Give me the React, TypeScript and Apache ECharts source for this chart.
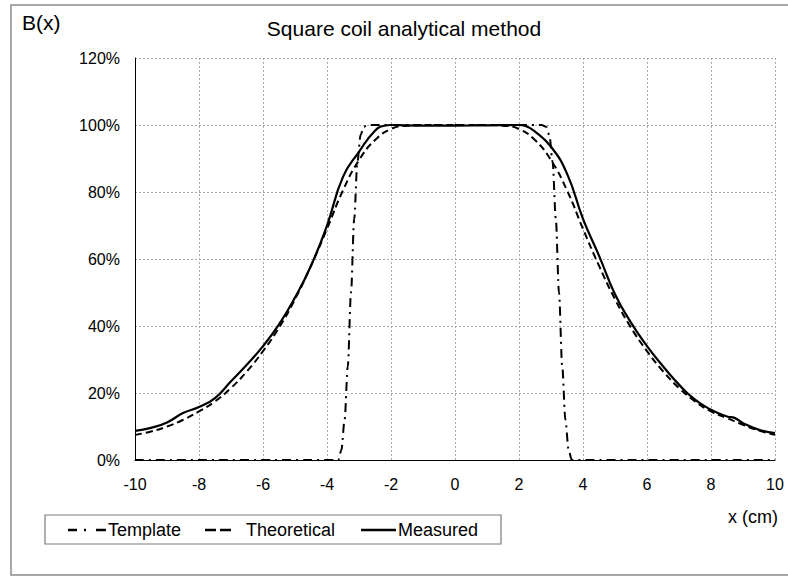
import React, { useEffect, useRef } from "react";
import * as echarts from "echarts";

const FONT = "'Liberation Sans', Arial, sans-serif";

const xTicks = [-10, -8, -6, -4, -2, 0, 2, 4, 6, 8, 10];
const yTickLabels = ["0%", "20%", "40%", "60%", "80%", "100%", "120%"];

const templateX = [-10, -3.65, -3.55, -3.45, -3.35, -3.25, -3.15, -3.05, -2.95, -2.85, -2.7, 2.7, 2.85, 2.95, 3.05, 3.15, 3.25, 3.35, 3.45, 3.55, 3.65, 10];
const templateY = [0, 0, 3, 12, 28, 50, 72, 89, 97, 99.5, 100, 100, 99.5, 97, 89, 72, 50, 28, 12, 3, 0, 0];

const theoreticalX = [-10, -9.5, -9, -8.5, -8, -7.5, -7, -6.5, -6, -5.5, -5, -4.5, -4, -3.5, -3, -2.5, -2, -1.5, -1, 0, 1, 1.5, 2, 2.5, 3, 3.5, 4, 4.5, 5, 5.5, 6, 6.5, 7, 7.5, 8, 8.5, 9, 9.5, 10];
const theoreticalY = [7.5, 8.5, 10, 12, 14.5, 17.5, 21.5, 26.5, 32.5, 39.5, 48, 58, 69, 80.5, 89.5, 95.5, 98.8, 99.8, 100, 100, 100, 99.8, 98.8, 95.5, 89.5, 80.5, 69, 58, 48, 39.5, 32.5, 26.5, 21.5, 17.5, 14.5, 12.5, 10.5, 8.8, 7.5];

const measuredX = [-10, -9.5, -9, -8.5, -8, -7.5, -7, -6.5, -6, -5.5, -5, -4.5, -4, -3.5, -3, -2.5, -2.2, -2, -1, 0, 1, 2, 2.2, 2.5, 3, 3.5, 4, 4.5, 5, 5.5, 6, 6.5, 7, 7.5, 8, 8.5, 8.75, 9, 9.5, 10];
const measuredY = [8.7, 9.6, 11.2, 14, 15.8, 18.5, 23.5, 28.5, 34, 40.5, 48.5, 58, 70, 84.5, 92, 98.3, 99.8, 100, 99.8, 99.8, 99.9, 100, 99.7, 98, 93.5, 85.5, 72, 61, 49.5, 41, 34, 28, 22.5, 18, 15, 13, 12.5, 11, 9, 8];

const seriesNames = ["Template", "Theoretical", "Measured"];
const titleText = "Square coil analytical method";
const yAxisTitle = "B(x)";
const xAxisTitle = "x (cm)";

const zip = (xs: number[], ys: number[]) => xs.map((x, i) => [x, ys[i]]);

export default function App() {
  const ref = useRef<HTMLDivElement>(null);
  useEffect(() => {
    if (!ref.current) return;
    const chart = echarts.init(ref.current, undefined, { renderer: "svg" });
    const lineBase = { color: "#000", width: 2 };
    chart.setOption({
      animation: false,
      backgroundColor: "#fff",
      grid: { left: 135, right: 13, top: 58, bottom: 116, containLabel: false },
      xAxis: {
        type: "value",
        min: -10,
        max: 10,
        interval: 2,
        axisLine: { show: true, onZero: false, lineStyle: { color: "#000", width: 1 } },
        axisTick: { show: false },
        axisLabel: {
          color: "#000",
          fontSize: 16,
          fontFamily: FONT,
          margin: 16,
          formatter: (v: number) => (xTicks.includes(v) ? String(v) : ""),
        },
        splitLine: { show: true, lineStyle: { color: "#a8a8a8", width: 1, type: [2, 2] } },
      },
      yAxis: {
        type: "value",
        min: 0,
        max: 120,
        interval: 20,
        axisLine: { show: true, onZero: false, lineStyle: { color: "#000", width: 1 } },
        axisTick: { show: false },
        axisLabel: {
          color: "#000",
          fontSize: 16,
          fontFamily: FONT,
          margin: 15,
          formatter: (v: number) => yTickLabels[Math.round(v / 20)] ?? "",
        },
        splitLine: { show: true, lineStyle: { color: "#a8a8a8", width: 1, type: [2, 2] } },
      },
      series: [
        {
          name: seriesNames[0],
          type: "line",
          data: zip(templateX, templateY),
          showSymbol: false,
          symbol: "none",
          smooth: 0.3,
          smoothMonotone: "x",
          lineStyle: { ...lineBase, type: [9, 5, 2, 5] },
          z: 3,
        },
        {
          name: seriesNames[1],
          type: "line",
          data: zip(theoreticalX, theoreticalY),
          showSymbol: false,
          symbol: "none",
          smooth: 0.5,
          lineStyle: { ...lineBase, type: [7, 4] },
          z: 4,
        },
        {
          name: seriesNames[2],
          type: "line",
          data: zip(measuredX, measuredY),
          showSymbol: false,
          symbol: "none",
          smooth: 0.5,
          lineStyle: { ...lineBase, width: 2.2 },
          z: 5,
        },
      ],
      graphic: [
        {
          type: "rect",
          shape: { x: 11, y: 5, width: 790, height: 570 },
          style: { fill: "none", stroke: "#8a8a8a", lineWidth: 1.5 },
          silent: true,
        },
        {
          type: "text",
          x: 404,
          y: 28,
          style: { text: titleText, fill: "#000", fontSize: 21, fontFamily: FONT, align: "center", verticalAlign: "middle" },
        },
        {
          type: "text",
          x: 22,
          y: 22,
          style: { text: yAxisTitle, fill: "#000", fontSize: 21, fontFamily: FONT, align: "left", verticalAlign: "middle" },
        },
        {
          type: "text",
          x: 778,
          y: 517,
          style: { text: xAxisTitle, fill: "#000", fontSize: 18, fontFamily: FONT, align: "right", verticalAlign: "middle" },
        },
        {
          type: "rect",
          shape: { x: 45, y: 515, width: 456, height: 29 },
          style: { fill: "#fff", stroke: "#7a7a7a", lineWidth: 1.2 },
        },
        { type: "line", shape: { x1: 68, y1: 530, x2: 77, y2: 530 }, style: { stroke: "#000", lineWidth: 2.5 } },
        { type: "line", shape: { x1: 84, y1: 530, x2: 86, y2: 530 }, style: { stroke: "#000", lineWidth: 2.5 } },
        { type: "line", shape: { x1: 96, y1: 530, x2: 106, y2: 530 }, style: { stroke: "#000", lineWidth: 2.5 } },
        {
          type: "text",
          x: 108,
          y: 530,
          style: { text: seriesNames[0], fill: "#000", fontSize: 18, fontFamily: FONT, align: "left", verticalAlign: "middle" },
        },
        { type: "line", shape: { x1: 205, y1: 530, x2: 216, y2: 530 }, style: { stroke: "#000", lineWidth: 2.5 } },
        { type: "line", shape: { x1: 220, y1: 530, x2: 231, y2: 530 }, style: { stroke: "#000", lineWidth: 2.5 } },
        {
          type: "text",
          x: 246,
          y: 530,
          style: { text: seriesNames[1], fill: "#000", fontSize: 18, fontFamily: FONT, align: "left", verticalAlign: "middle" },
        },
        { type: "line", shape: { x1: 361, y1: 530, x2: 396, y2: 530 }, style: { stroke: "#000", lineWidth: 2.5 } },
        {
          type: "text",
          x: 398,
          y: 530,
          style: { text: seriesNames[2], fill: "#000", fontSize: 18, fontFamily: FONT, align: "left", verticalAlign: "middle" },
        },
      ],
    });
    return () => chart.dispose();
  }, []);
  return <div ref={ref} style={{ position: "absolute", left: 0, top: 0, width: 788, height: 576 }} />;
}
